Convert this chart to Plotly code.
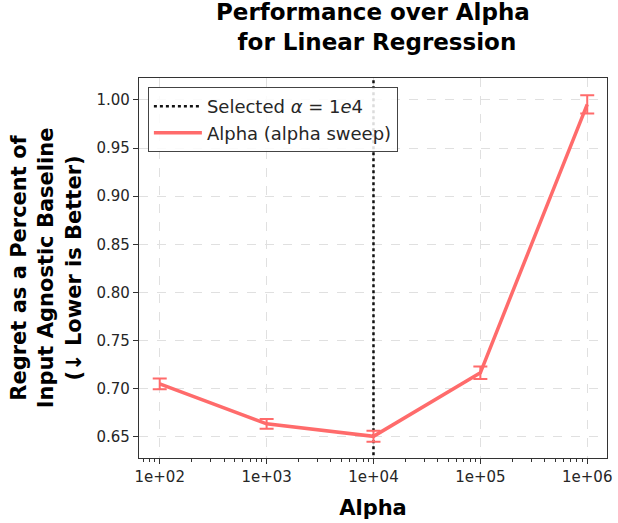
import plotly.graph_objects as go

alphas = [1e2, 1e3, 1e4, 1e5, 1e6]
regret = [0.705, 0.6635, 0.6505, 0.7165, 0.9955]
regret_err = [0.0057, 0.005, 0.0057, 0.0065, 0.0095]
selected_alpha = 1e4
xtick_vals = [1e2, 1e3, 1e4, 1e5, 1e6]
xtick_text = ["1e+02", "1e+03", "1e+04", "1e+05", "1e+06"]
ytick_vals = [0.65, 0.70, 0.75, 0.80, 0.85, 0.90, 0.95, 1.00]
title_lines = ["Performance over Alpha", "&nbsp;for Linear Regression"]

FONT = "DejaVu Sans"
RED = "#ff6b6b"

fig = go.Figure()
fig.add_trace(go.Scatter(
    x=[selected_alpha, selected_alpha], y=[0.5, 1.1], mode="lines",
    line=dict(color="#111111", width=2.5, dash="dot"),
    name="Selected <i>α</i> = 1<i>e</i>4",
))
fig.add_trace(go.Scatter(
    x=alphas, y=regret, mode="lines",
    line=dict(color=RED, width=3.5),
    error_y=dict(type="data", array=regret_err, visible=True, color=RED,
                 thickness=2, width=7),
    name="Alpha (alpha sweep)",
))

fig.add_annotation(text="<b>" + "<br>".join(title_lines) + "</b>", xref="paper", yref="paper",
                   x=0.5, y=1.1355, xanchor="center", yanchor="middle", showarrow=False,
                   align="center", borderpad=0,
                   font=dict(family=FONT, size=23, color="black"))

fig.update_layout(
    width=618, height=523,
    margin=dict(l=139, r=6, t=78, b=65),
    paper_bgcolor="white", plot_bgcolor="white",
    font=dict(family=FONT, size=15, color="#262626"),
    showlegend=True,
    legend=dict(x=0.019, y=0.976, xanchor="left", yanchor="top",
                bgcolor="rgba(255,255,255,0.85)", bordercolor="#444444",
                borderwidth=1, font=dict(family=FONT, size=18, color="#262626"),
                itemwidth=48, tracegroupgap=0),
)
fig.update_xaxes(
    type="log", range=[1.806, 6.185],
    tickvals=xtick_vals, ticktext=xtick_text,
    ticks="outside", ticklen=5, tickcolor="#333333",
    tickfont=dict(family=FONT, size=15, color="#262626"),
    showline=True, linecolor="#333333", linewidth=1.2, mirror=True,
    showgrid=True, gridcolor="#e0e0e0", griddash="dash", gridwidth=1,
    zeroline=False,
    minor=dict(ticks="outside", ticklen=3, tickcolor="#333333", dtick="D1", showgrid=False),
    title=dict(text="<b>Alpha</b>", font=dict(family=FONT, size=21, color="black"), standoff=15),
)
fig.update_yaxes(
    range=[0.628, 1.0228],
    tickvals=ytick_vals, tickformat=".2f",
    ticks="outside", ticklen=5, tickcolor="#333333",
    tickfont=dict(family=FONT, size=15, color="#262626"),
    showline=True, linecolor="#333333", linewidth=1.2, mirror=True,
    showgrid=True, gridcolor="#e0e0e0", griddash="dash", gridwidth=1,
    zeroline=False,
    title=dict(text="<b>Regret as a Percent of<br>Input Agnostic Baseline<br>(↓ Lower is Better)</b>",
               font=dict(family=FONT, size=21, color="black"), standoff=9),
)

fig.write_html("out.html", config={"displayModeBar": False},
               post_script="document.body.style.margin='0';document.body.style.overflow='hidden';")
